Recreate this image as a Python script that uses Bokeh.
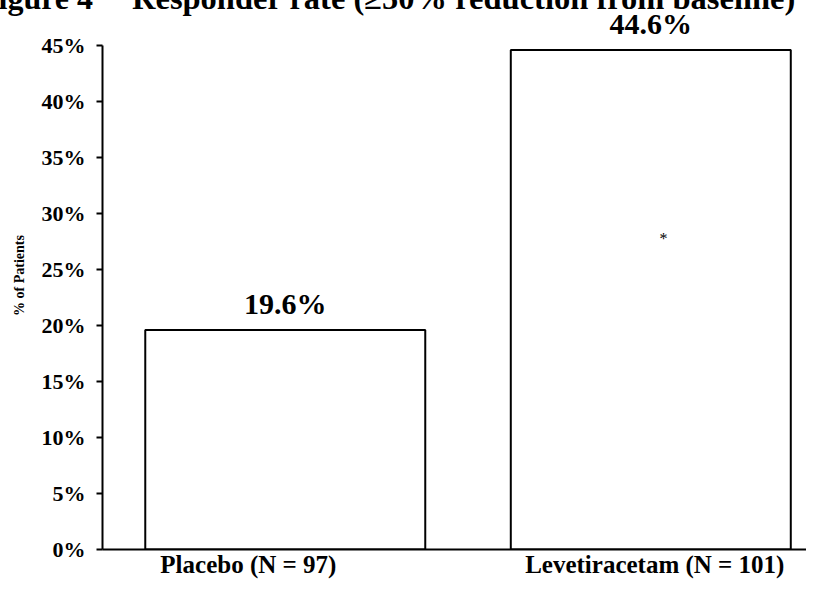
from bokeh.plotting import figure
from bokeh.models import Range1d, FixedTicker, PrintfTickFormatter, ColumnDataSource, Div
from bokeh.layouts import column
from bokeh.core.properties import value
from bokeh.embed import file_html
from bokeh.resources import INLINE

# ---- data ----
categories = ["Placebo (N = 97)", "Levetiracetam (N = 101)"]
responder_pct = [19.6, 44.6]
value_labels = ["19.6%", "44.6%"]
y_ticks = [0, 5, 10, 15, 20, 25, 30, 35, 40, 45]
sig_marker = "*"
sig_category_index = 1
sig_level = 27.8
title_fig = "Figure 4"
title_main = "Responder rate (\u226550% reduction from baseline)"

FONT = "Liberation Serif"

xs = [i + 0.5 for i in range(len(categories))]
# category labels sit slightly off the bar centres in the source figure
label_shift = [-0.101, 0.011]
label_pos = [x + s for x, s in zip(xs, label_shift)]
src = ColumnDataSource(dict(x=xs, top=responder_pct, lab=value_labels))

# title line, cut off at the top as in the source page
title_html = (
    '<div style="position:relative;width:806px;height:12px;overflow:visible;'
    'font-family:\'Liberation Serif\';font-weight:bold;font-size:32px;line-height:32px;'
    'white-space:nowrap;color:black;">'
    f'<span style="position:absolute;left:-21px;top:-18px;">{title_fig}</span> '
    f'<span style="position:absolute;left:132px;top:-18px;font-size:32.5px;">{title_main}</span>'
    '</div>'
)
title_div = Div(text=title_html, width=806, height=1, margin=0)

p = figure(frame_width=704, frame_height=548, output_backend="svg", toolbar_location=None,
           x_range=Range1d(0, 1.926), y_range=Range1d(0, 48.93),
           min_border_left=102, min_border_right=0, min_border_top=0, min_border_bottom=0,
           margin=0)
p.outline_line_color = None
p.xgrid.visible = False
p.ygrid.visible = False
p.background_fill_color = None
p.border_fill_color = None

p.vbar(x="x", top="top", width=0.766, source=src, fill_color="white",
       line_color="black", line_width=2)

p.text(x="x", y="top", text="lab", source=src, text_align="center",
       text_baseline="alphabetic", y_offset=-26,
       text_font=value(FONT), text_font_style="bold", text_font_size="30px",
       text_color="black")

p.text(x=[xs[sig_category_index] + 0.035], y=[sig_level], text=[sig_marker],
       text_align="center", text_baseline="middle",
       text_font=value(FONT), text_font_size="16px", text_color="black")

# y axis
ya = p.yaxis[0]
ya.ticker = FixedTicker(ticks=y_ticks)
ya.formatter = PrintfTickFormatter(format="%d%%")
ya.bounds = (0, 45)
ya.axis_line_width = 2
ya.axis_line_color = "black"
ya.major_tick_line_width = 2
ya.major_tick_line_color = "black"
ya.major_tick_out = 6
ya.major_tick_in = 0
ya.minor_tick_line_color = None
ya.major_label_standoff = 11
ya.major_label_text_font = FONT
ya.major_label_text_font_style = "bold"
ya.major_label_text_font_size = "22px"
ya.major_label_text_color = "black"
ya.axis_label = "% of Patients"
ya.axis_label_text_font = FONT
ya.axis_label_text_font_style = "bold"
ya.axis_label_text_font_size = "14px"
ya.axis_label_text_color = "black"
ya.axis_label_standoff = 12

# x axis
xa = p.xaxis[0]
xa.ticker = FixedTicker(ticks=label_pos)
xa.major_label_overrides = {x: c for x, c in zip(label_pos, categories)}
xa.axis_line_width = 2
xa.axis_line_color = "black"
xa.major_tick_line_color = None
xa.major_tick_out = 0
xa.major_tick_in = 0
xa.minor_tick_line_color = None
xa.major_label_standoff = 1
xa.major_label_text_font = FONT
xa.major_label_text_font_style = "bold"
xa.major_label_text_font_size = "25px"
xa.major_label_text_color = "black"

layout = column(title_div, p, spacing=0)
open("out.html", "w").write(file_html(layout, INLINE))
